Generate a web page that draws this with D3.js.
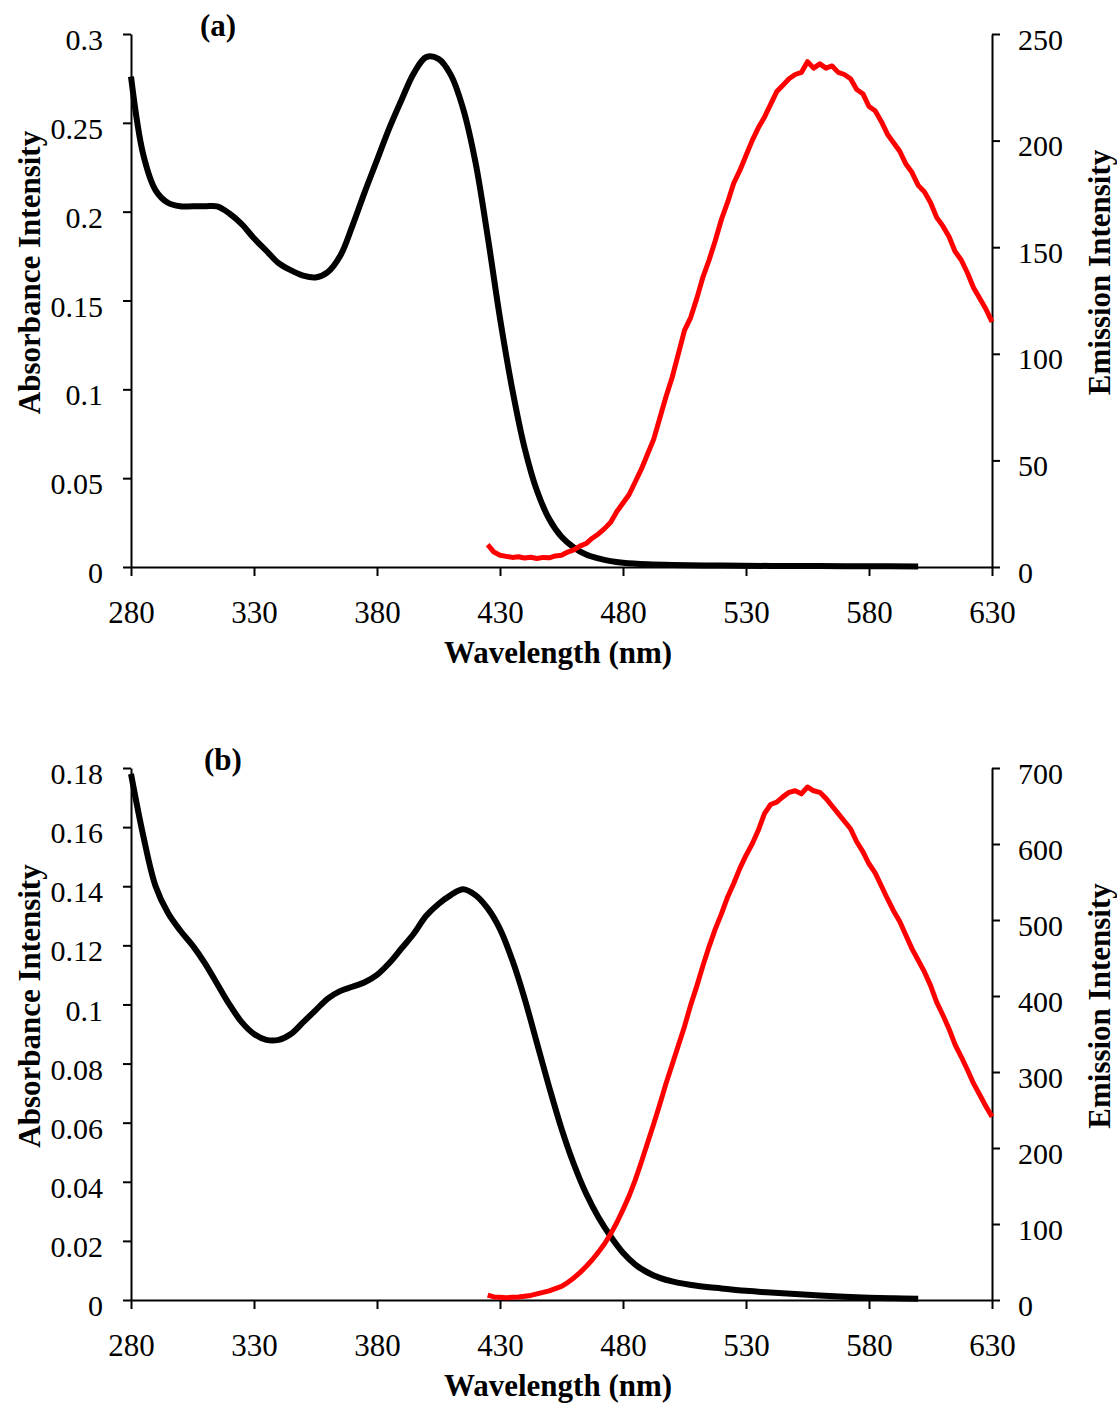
<!DOCTYPE html>
<html>
<head>
<meta charset="utf-8">
<script src="https://cdn.jsdelivr.net/npm/d3@7"></script>
<style>
  body { margin: 0; background: #fff; }
  svg { display: block; font-family: "Liberation Serif", "Times New Roman", serif; }
</style>
</head>
<body>
<div class="chart"></div>
<script>
// wavelength ticks shared by both panels
var xTicks = [280, 330, 380, 430, 480, 530, 580, 630];

// emission wavelengths (both panels)
var emWl = [425, 427.5, 430, 432.5, 435, 437.5, 440, 442.5, 445, 447.5, 450, 452.5, 455, 457.5, 460, 462.5, 465, 467.5, 470, 472.5,
  475, 477.5, 480, 482.5, 485, 487.5, 490, 492.5, 495, 497.5, 500, 502.5, 505, 507.5, 510, 512.5, 515, 517.5, 520, 522.5,
  525, 527.5, 530, 532.5, 535, 537.5, 540, 542.5, 545, 547.5, 550, 552.5, 555, 557.5, 560, 562.5, 565, 567.5, 570, 572.5,
  575, 577.5, 580, 582.5, 585, 587.5, 590, 592.5, 595, 597.5, 600, 602.5, 605, 607.5, 610, 612.5, 615, 617.5, 620, 622.5,
  625, 627.5, 630];

// ---- panel (a) ----
var absWlA = [280, 285, 290, 295, 300, 305, 310, 315, 320, 325, 330, 335, 340, 345, 350, 355, 360, 365, 370, 375,
  380, 385, 390, 395, 400, 405, 410, 415, 420, 425, 430, 435, 440, 445, 450, 455, 460, 465, 470, 475,
  480, 490, 500, 520, 540, 560, 580, 600];
var absA = [0.276, 0.232, 0.212, 0.205, 0.203, 0.203, 0.203, 0.203, 0.199, 0.193, 0.185, 0.178, 0.171, 0.167, 0.164, 0.163, 0.166, 0.175, 0.192, 0.211,
  0.229, 0.247, 0.263, 0.278, 0.287, 0.286, 0.277, 0.258, 0.228, 0.186, 0.140, 0.100, 0.067, 0.043, 0.027, 0.017, 0.011, 0.007, 0.0048, 0.0033,
  0.0024, 0.0015, 0.0011, 0.0008, 0.0006, 0.0005, 0.0004, 0.0003];
var emA = [10.5, 7, 5.5, 5, 4.5, 4.8, 4.2, 4.6, 4.0, 4.5, 4.3, 5.2, 5.5, 7, 8, 9.8, 11, 13.5, 15.5, 18,
  21, 26, 30, 34, 40, 46, 53, 60, 70, 80, 89, 100, 111, 117, 126, 136, 144, 153, 163, 171,
  180, 186, 193, 200, 206, 211, 217, 223, 226, 229, 231, 232, 237, 234, 236, 234, 235, 232, 231, 229,
  224, 222, 216, 214, 209, 203, 199, 195, 189, 185, 179, 176, 171, 164, 160, 155, 148, 144, 138, 131,
  126, 121, 115];
var absTicksA = [0, 0.05, 0.1, 0.15, 0.2, 0.25, 0.3];
var emTicksA = [0, 50, 100, 150, 200, 250];

// ---- panel (b) ----
var absWlB = [280, 285, 290, 295, 300, 305, 310, 315, 320, 325, 330, 335, 340, 345, 350, 355, 360, 365, 370, 375,
  380, 385, 390, 395, 400, 405, 410, 415, 420, 425, 430, 435, 440, 445, 450, 455, 460, 465, 470, 475,
  480, 485, 490, 495, 500, 510, 520, 530, 540, 550, 560, 570, 580, 590, 600];
var absB = [0.178, 0.157, 0.140, 0.131, 0.125, 0.120, 0.114, 0.107, 0.100, 0.094, 0.090, 0.088, 0.088, 0.090, 0.094, 0.098, 0.102, 0.1045, 0.106, 0.1075,
  0.110, 0.114, 0.119, 0.124, 0.130, 0.134, 0.137, 0.139, 0.137, 0.1325, 0.1255, 0.115, 0.102, 0.087, 0.072, 0.058, 0.046, 0.036, 0.028, 0.0215,
  0.016, 0.012, 0.0093, 0.0075, 0.0063, 0.0048, 0.0039, 0.0031, 0.0025, 0.0020, 0.0015, 0.0011, 0.0008, 0.0006, 0.0004];
var emB = [6.5, 4, 3.5, 3, 3.5, 4, 5, 6, 8, 10, 12, 15, 18, 23, 29, 36, 44, 53, 63, 74,
  87, 102, 119, 137, 158, 182, 207, 232, 258, 285, 310, 335, 360, 388, 413, 440, 465, 488, 508, 530,
  548, 568, 585, 600, 618, 640, 652, 655, 662, 668, 670, 666, 675, 670, 668, 660, 650, 640, 630, 620,
  603, 590, 574, 562, 545, 528, 512, 498, 480, 462, 447, 432, 414, 392, 375, 357, 336, 320, 303, 285,
  270, 255, 241];
var absTicksB = [0, 0.02, 0.04, 0.06, 0.08, 0.1, 0.12, 0.14, 0.16, 0.18];
var emTicksB = [0, 100, 200, 300, 400, 500, 600, 700];

var svgWidth = 1117;
var svgHeight = 1404;

var svg = d3.select(".chart")
  .append("svg")
  .attr("width", svgWidth)
  .attr("height", svgHeight);

var xScale = d3.scaleLinear().domain([280, 630]).range([131, 992]);

// tick label text: drop trailing zeros
function fmt(v) { return String(+v.toFixed(3)); }

function drawPanel(p) {
  var yLeft = d3.scaleLinear().domain([0, p.absMax]).range([p.bottom, p.top]);
  var yRight = d3.scaleLinear().domain([0, p.emMax]).range([p.bottom, p.top]);

  var g = svg.append("g");

  // x axis
  var gx = g.append("g")
    .attr("transform", `translate(0, ${p.bottom})`)
    .call(d3.axisBottom(xScale).tickValues(xTicks).tickSize(9).tickSizeOuter(0).tickPadding(25).tickFormat(fmt));
  gx.selectAll("text").attr("font-size", 31);

  // left axis
  var gl = g.append("g")
    .attr("transform", `translate(131, 0)`)
    .call(d3.axisLeft(yLeft).tickValues(p.absTicks).tickSize(8).tickSizeOuter(0).tickPadding(20).tickFormat(fmt));
  gl.selectAll("text").attr("font-size", 30).attr("dy", "0.52em");

  // right axis
  var gr = g.append("g")
    .attr("transform", `translate(992, 0)`)
    .call(d3.axisRight(yRight).tickValues(p.emTicks).tickSize(8).tickSizeOuter(0).tickPadding(18).tickFormat(fmt));
  gr.selectAll("text").attr("font-size", 30).attr("dy", "0.5em");

  // d3 axes force sans-serif, put the serif face back
  g.selectAll("g").attr("font-family", "Liberation Serif, Times New Roman, serif");

  g.selectAll(".domain, .tick line")
    .attr("stroke", "#000")
    .attr("stroke-width", 2);
  g.selectAll(".tick text").attr("fill", "#000");

  // absorbance line
  var absLine = d3.line()
    .x((d, i) => xScale(p.absWl[i]))
    .y(d => yLeft(d))
    .curve(d3.curveCatmullRom.alpha(0.5));

  g.append("path")
    .datum(p.abs)
    .attr("d", absLine)
    .attr("fill", "none")
    .attr("stroke", "#000")
    .attr("stroke-width", 6);

  // emission line
  var emLine = d3.line()
    .x((d, i) => xScale(p.emWl[i]))
    .y(d => yRight(d));

  g.append("path")
    .datum(p.em)
    .attr("d", emLine)
    .attr("fill", "none")
    .attr("stroke", "#ff0000")
    .attr("stroke-width", 5)
    .attr("stroke-linejoin", "round");

  // titles
  g.append("text")
    .attr("x", 558)
    .attr("y", p.bottom + 96)
    .attr("text-anchor", "middle")
    .attr("font-size", 31)
    .attr("font-weight", "bold")
    .text("Wavelength (nm)");

  var mid = (p.top + p.bottom) / 2 - 28;

  g.append("text")
    .attr("transform", `translate(40, ${mid}) rotate(-90)`)
    .attr("text-anchor", "middle")
    .attr("font-size", 31)
    .attr("font-weight", "bold")
    .text("Absorbance Intensity");

  g.append("text")
    .attr("transform", `translate(1110, ${mid}) rotate(-90)`)
    .attr("text-anchor", "middle")
    .attr("font-size", 31)
    .attr("font-weight", "bold")
    .text("Emission Intensity");

  g.append("text")
    .attr("x", p.labelX)
    .attr("y", p.top + 2)
    .attr("text-anchor", "middle")
    .attr("font-size", 31)
    .attr("font-weight", "bold")
    .text(p.label);
}

drawPanel({
  top: 34, bottom: 567, absMax: 0.3, emMax: 250,
  absWl: absWlA, abs: absA, emWl: emWl, em: emA,
  absTicks: absTicksA, emTicks: emTicksA,
  label: "(a)", labelX: 218
});

drawPanel({
  top: 768, bottom: 1300, absMax: 0.18, emMax: 700,
  absWl: absWlB, abs: absB, emWl: emWl, em: emB,
  absTicks: absTicksB, emTicks: emTicksB,
  label: "(b)", labelX: 223
});
</script>
</body>
</html>
